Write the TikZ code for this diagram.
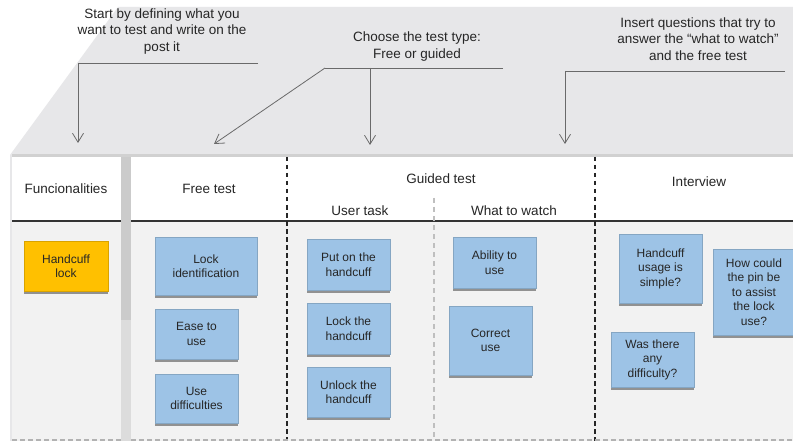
\documentclass[tikz,border=0pt]{standalone}
\usepackage{fontspec}
\setmainfont{Liberation Sans}
\usetikzlibrary{arrows.meta,shadows}
\definecolor{bgA}{HTML}{E7E7E9}
\definecolor{panelbg}{HTML}{F2F2F2}
\definecolor{notebl}{HTML}{9DC3E6}
\definecolor{noteor}{HTML}{FFC000}
\definecolor{txt}{HTML}{262626}
\definecolor{conn}{HTML}{6A6A6A}
\definecolor{stripA}{HTML}{CBCBCB}
\definecolor{stripB}{HTML}{DCDCDC}
\begin{document}
\begin{tikzpicture}[x=1pt,y=-1pt,
  stickynote/.style={fill=notebl, draw=notebl!85!black, line width=0.2pt,
    drop shadow={shadow xshift=-0.5pt,shadow yshift=-2.5pt,opacity=0.4,fill=black},
    align=center, font=\fontsize{12}{14.5}\selectfont, text=txt, inner sep=0pt},
  orangenote/.style={stickynote, fill=noteor, draw=noteor!85!black},
  headtxt/.style={font=\fontsize{13.5}{16}\selectfont, text=txt, inner sep=0pt},
  annot/.style={font=\fontsize{13.5}{16.8}\selectfont, text=txt, align=center, inner sep=0pt},
  connline/.style={draw=conn, line width=0.8pt},
  connarrow/.style={connline, -{Straight Barb[length=9pt,width=11pt,line width=0.8pt]}},
  blackdash/.style={draw=black!85, line width=1.3pt, dash pattern=on 4.5pt off 3.5pt},
  greydash/.style={draw=black!25, line width=1.3pt, dash pattern=on 5pt off 4pt},
  divider/.style={draw=black!80, line width=1.4pt}
]
\useasboundingbox (0,0) rectangle (793,441);
\fill[white] (0,0) rectangle (793,441);
% background
\fill[bgA] (118,7) -- (793,7) -- (793,441) -- (10,441) -- (10,155) -- cycle;
% strip between panels
\fill[stripA] (121,155) rectangle (131,320);
\fill[stripB] (121,320) rectangle (131,441);
\fill[black!18] (12,154.5) rectangle (793,157);
% left panel
\fill[white] (12,157) rectangle (121,221);
\fill[panelbg] (12,221) rectangle (121,441);
% main panel
\fill[white] (131,157) rectangle (793,221);
\fill[panelbg] (131,221) rectangle (793,441);
% dividers
\draw[divider] (12,221) -- (121,221);
\draw[divider] (131,221) -- (793,221);
\draw[blackdash] (287,157) -- (287,441);
\draw[blackdash] (595,157) -- (595,441);
\draw[greydash] (434,198) -- (434,441);
\draw[draw=black!30, line width=1.2pt, dash pattern=on 5pt off 3pt] (12,440) -- (121,440);
\draw[draw=black!30, line width=1.2pt, dash pattern=on 5pt off 3pt] (131,440) -- (793,440);
% headers
\node[headtxt] (hfun) at (66,189) {Funcionalities};
\node[headtxt] (hfree) at (209,189) {Free test};
\node[headtxt] (hguid) at (441,179) {Guided test};
\node[headtxt] (huser) at (360,211) {User task};
\node[headtxt] (hwatch) at (514,211) {What to watch};
\node[headtxt] (hint) at (699,182) {Interview};
% annotations
\node[annot] (t1) at (162,31.5) {Start by defining what you\\want to test and write on the\\post it};
\node[annot] (t2) at (417,46.5) {Choose the test type:\\Free or guided};
\node[annot] (t3) at (698,39) {Insert questions that try to\\answer the “what to watch”\\and the free test};
% connector coordinates
\coordinate (l1a) at (78,63);
\coordinate (l1b) at (258,63);
\coordinate (l1t) at (78,143);
\coordinate (l2a) at (325,68);
\coordinate (l2b) at (503,68);
\coordinate (l2m) at (370,68);
\coordinate (l2t) at (370,145);
\coordinate (l2d) at (214,144);
\coordinate (l3a) at (565,71);
\coordinate (l3b) at (785,71);
\coordinate (l3t) at (565,144);
\draw[connline] (l1b) -- (l1a);
\draw[connarrow] (l1a) -- (l1t);
\draw[connline] (l2b) -- (l2a);
\draw[connarrow] (l2m) -- (l2t);
\draw[connarrow] (l2a) -- (l2d);
\draw[connline] (l3b) -- (l3a);
\draw[connarrow] (l3a) -- (l3t);
% sticky notes
\node[orangenote, minimum width=84, minimum height=50] (hl) at (66,266) {Handcuff\\lock};
\node[stickynote, minimum width=102, minimum height=58] (f1) at (206,266) {Lock\\identification};
\node[stickynote, minimum width=83, minimum height=50] (f2) at (196.5,334) {Ease to\\use};
\node[stickynote, minimum width=83, minimum height=49] (f3) at (196.5,398.5) {Use\\difficulties};
\node[stickynote, minimum width=83, minimum height=51] (u1) at (348.5,264.5) {Put on the\\handcuff};
\node[stickynote, minimum width=83, minimum height=51] (u2) at (348.5,328.5) {Lock the\\handcuff};
\node[stickynote, minimum width=83, minimum height=50] (u3) at (348.5,392) {Unlock the\\handcuff};
\node[stickynote, minimum width=83, minimum height=51] (w1) at (494.5,262.5) {Ability to\\use};
\node[stickynote, minimum width=83, minimum height=69] (w2) at (490.5,340.5) {Correct\\use};
\node[stickynote, minimum width=83, minimum height=69] (i1) at (660.5,268.5) {Handcuff\\usage is\\simple?};
\node[stickynote, minimum width=82, minimum height=86] (i2) at (754,292) {How could\\the pin be\\to assist\\the lock\\use?};
\node[stickynote, minimum width=83, minimum height=55] (i3) at (652.5,359.5) {Was there\\any\\difficulty?};
\end{tikzpicture}
\end{document}
